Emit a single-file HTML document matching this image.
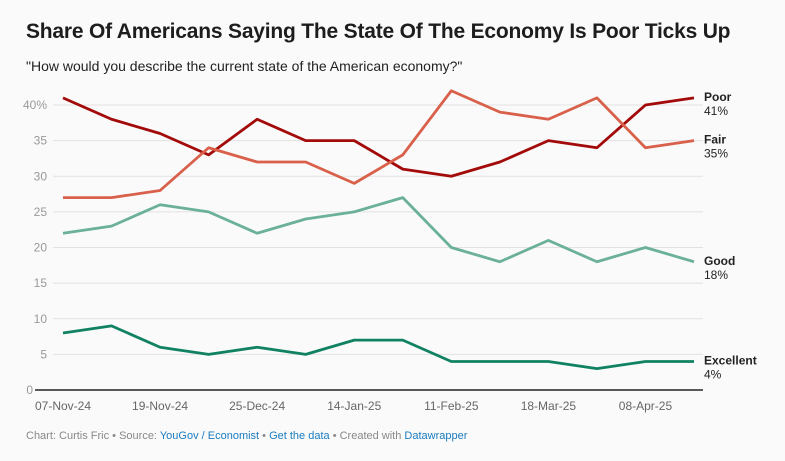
<!DOCTYPE html>
<html><head><meta charset="utf-8"><style>
body{margin:0;background:#fafafa;font-family:"Liberation Sans",sans-serif;}
#wrap{position:relative;width:785px;height:461px;overflow:hidden;}
h1{position:absolute;left:26px;top:20px;margin:0;font-size:21px;font-weight:bold;color:#1d1d1d;letter-spacing:-0.2px;}
.sub{position:absolute;left:26px;top:58px;font-size:14px;color:#222;}
.foot{position:absolute;left:26px;top:430px;font-size:11px;color:#888;}
.foot a{color:#1a7bbf;text-decoration:none;}
</style></head><body>
<div id="wrap">
<h1>Share Of Americans Saying The State Of The Economy Is Poor Ticks Up</h1>
<div class="sub">"How would you describe the current state of the American economy?"</div>
<svg id="chart" width="785" height="461" style="position:absolute;left:0;top:0"></svg>
<div class="foot">Chart: Curtis Fric • Source: <a>YouGov / Economist</a> • <a>Get the data</a> • Created with <a>Datawrapper</a></div>
</div>
<script>
const dates=["07-Nov-24","","19-Nov-24","","25-Dec-24","","14-Jan-25","","11-Feb-25","","18-Mar-25","","08-Apr-25",""];
const poor=[41,38,36,33,38,35,35,31,30,32,35,34,40,41];
const fair=[27,27,28,34,32,32,29,33,42,39,38,41,34,35];
const good=[22,23,26,25,22,24,25,27,20,18,21,18,20,18];
const excellent=[8,9,6,5,6,5,7,7,4,4,4,3,4,4];
const yTicks=[0,5,10,15,20,25,30,35,40];
const seriesNames=["Poor","Fair","Good","Excellent"];
const NS="http://www.w3.org/2000/svg";
const svg=document.getElementById("chart");
const x=i=>63+i*(694-63)/(dates.length-1);
const y=v=>390-v*7.125;
function mk(t,a){const e=document.createElementNS(NS,t);for(const k in a)e.setAttribute(k,a[k]);svg.appendChild(e);return e;}
yTicks.forEach(v=>{
  const l=mk("line",{x1:v===0?35:53,x2:703,y1:y(v),y2:y(v),stroke:v===0?"#222":"#e2e2e2","stroke-width":v===0?1.5:1});
  
  
  const t=mk("text",{x:v===0?33:47,y:y(v)+4,"text-anchor":"end","font-size":12,fill:"#999","font-family":"Liberation Sans"});
  t.textContent=v+(v===40?"%":"");
  
  
});
dates.forEach((d,i)=>{if(!d)return;
  const t=mk("text",{x:x(i),y:410,"text-anchor":"middle","font-size":12,fill:"#666","font-family":"Liberation Sans"});
  t.textContent=d;
  
  
});
const sets=[[poor,"#a30a0a"],[fair,"#d9604a"],[good,"#6bb09a"],[excellent,"#108263"]];
sets.forEach(([vals,c],si)=>{
  const p=mk("polyline",{points:vals.map((v,i)=>x(i)+","+y(v)).join(" "),fill:"none",stroke:c,"stroke-width":2.8,"stroke-linejoin":"round"});
  
  
  const lv=vals[vals.length-1];
  const t1=mk("text",{x:704,y:y(lv)+3,"font-size":12,"font-weight":"bold",fill:"#222","font-family":"Liberation Sans"});
  t1.textContent=seriesNames[si];
  
  
  const t2=mk("text",{x:704,y:y(lv)+17,"font-size":12,fill:"#222","font-family":"Liberation Sans"});
  t2.textContent=lv+"%";
  
  
});
</script>
</body></html>
